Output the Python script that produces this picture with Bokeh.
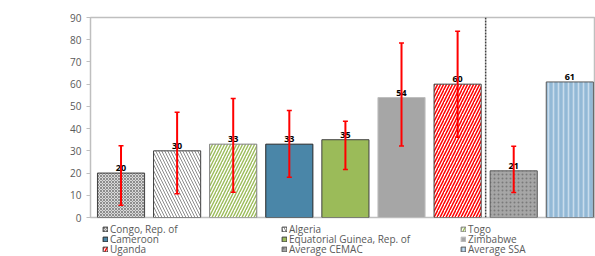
import numpy as np
from bokeh.plotting import figure
from bokeh.layouts import column
from bokeh.models import ColumnDataSource, Whisker, TeeHead, Span, Legend, LegendItem, FixedTicker, LabelSet, Range1d
from bokeh.core.properties import value
from bokeh.embed import file_html
from bokeh.resources import INLINE

categories = ["Congo, Rep. of", "Algeria", "Togo", "Cameroon", "Equatorial Guinea, Rep. of",
              "Zimbabwe", "Uganda", "Average CEMAC", "Average SSA"]
values = [20, 30, 33, 33, 35, 54, 60, 21, 61]
labels = ["20", "30", "33", "33", "35", "54", "60", "21", "61"]
err_low = [5.5, 10.7, 11.4, 18.1, 21.6, 32.2, 36.1, 11.3, None]
err_high = [32.3, 47.4, 53.5, 48.1, 43.3, 78.5, 83.8, 32.1, None]
y_ticks = [0, 10, 20, 30, 40, 50, 60, 70, 80, 90]

fill_colors = ["#D9D9D9", "#FFFFFF", "#FFFFFF", "#4A86A8", "#9BBB59", "#A6A6A6", "#FFFFFF", "#A6A6A6", "#93B9D6"]
hatch_patterns = ["x", "\\", "/", " ", " ", " ", "/", ".", "|"]
hatch_colors = ["#595959", "#8C8C8C", "#9BBB59", "#4A86A8", "#9BBB59", "#A6A6A6", "#FF0000", "#7A7A7A", "#C9DCEC"]
hatch_scales = [3, 6, 6, 6, 6, 6, 6, 4, 5]
hatch_weights = [0.6, 1, 1.4, 1, 1, 1, 1.5, 1, 1.6]
line_colors = ["#404040", "#404040", "#7F7F7F", "#262626", "#404040", "#BFBFBF", "#404040", "#595959", "#595959"]

x = list(range(len(categories)))
src = ColumnDataSource(dict(x=x, top=values, lab=labels, fill=fill_colors, hp=hatch_patterns,
                            hc=hatch_colors, hs=hatch_scales, hw=hatch_weights, lc=line_colors))

p = figure(width=595, height=223, output_backend="svg", toolbar_location=None,
           x_range=Range1d(-0.544, 8.458), y_range=Range1d(0, 90), x_axis_location=None,
           min_border_left=90, min_border_right=0, min_border_top=17, min_border_bottom=6)
p.background_fill_color = "white"
p.border_fill_color = "white"
p.outline_line_color = "#BFBFBF"
p.outline_line_width = 1.5
p.grid.visible = False

bar_kw = dict(x="x", top="top", width=0.84, bottom=0, source=src, fill_color="fill",
              hatch_pattern="hp", hatch_color="hc", hatch_scale="hs", hatch_weight="hw",
              line_color="lc", line_width=1)
r = p.vbar(**bar_kw)

# value labels
lbl = LabelSet(x="x", y="top", text="lab", source=src, text_align="center", text_baseline="bottom",
               y_offset=2, text_font=value("Open Sans"), text_font_size="9px", text_font_style="bold",
               text_color="#000000")
p.add_layout(lbl)

# error bars
ex = [xi for xi, lo in zip(x, err_low) if lo is not None]
elo = [lo for lo in err_low if lo is not None]
ehi = [hi for hi in err_high if hi is not None]
esrc = ColumnDataSource(dict(base=ex, lower=elo, upper=ehi))
w = Whisker(base="base", lower="lower", upper="upper", source=esrc, line_color="#FF0000", line_width=2,
            upper_head=TeeHead(size=5, line_color="#FF0000", line_width=1.5),
            lower_head=TeeHead(size=5, line_color="#FF0000", line_width=1.5), level="overlay")
p.add_layout(w)

# divider
p.add_layout(Span(location=6.5, dimension="height", line_color="#404040", line_width=1.5, line_dash="2 1"))

ax = p.yaxis[0]
ax.ticker = FixedTicker(ticks=y_ticks)
ax.axis_line_color = "#BFBFBF"
ax.major_tick_line_color = "#BFBFBF"
ax.major_tick_out = 4
ax.major_tick_in = 0
ax.minor_tick_line_color = None
ax.major_label_text_font = "Open Sans"
ax.major_label_text_font_size = "10px"
ax.major_label_text_color = "#595959"
ax.major_label_standoff = 5

# legend strip below the chart
p2 = figure(width=595, height=33, output_backend="svg", toolbar_location=None,
            x_range=Range1d(100, 101), y_range=Range1d(100, 101),
            x_axis_location=None, y_axis_location=None,
            min_border_left=0, min_border_right=0, min_border_top=0, min_border_bottom=0)
p2.outline_line_color = None
p2.grid.visible = False
r2 = p2.vbar(**bar_kw)

# one horizontal legend per row, three entries each
row_offsets = [20, 10, 0]
for row in range(3):
    idx = [row * 3 + c for c in range(3)]
    items = [LegendItem(label=categories[i], renderers=[r2], index=i) for i in idx]
    lg = Legend(items=items, orientation="horizontal", location=(12, row_offsets[row]),
                glyph_width=6, glyph_height=6, label_height=10, label_width=171, label_standoff=2,
                spacing=0, padding=0, margin=0, label_text_font="Open Sans", label_text_font_size="10px",
                label_text_color="#595959", border_line_color=None, background_fill_alpha=0)
    p2.add_layout(lg)

layout = column(p, p2, spacing=0)
open("out.html", "w").write(file_html(layout, INLINE))
